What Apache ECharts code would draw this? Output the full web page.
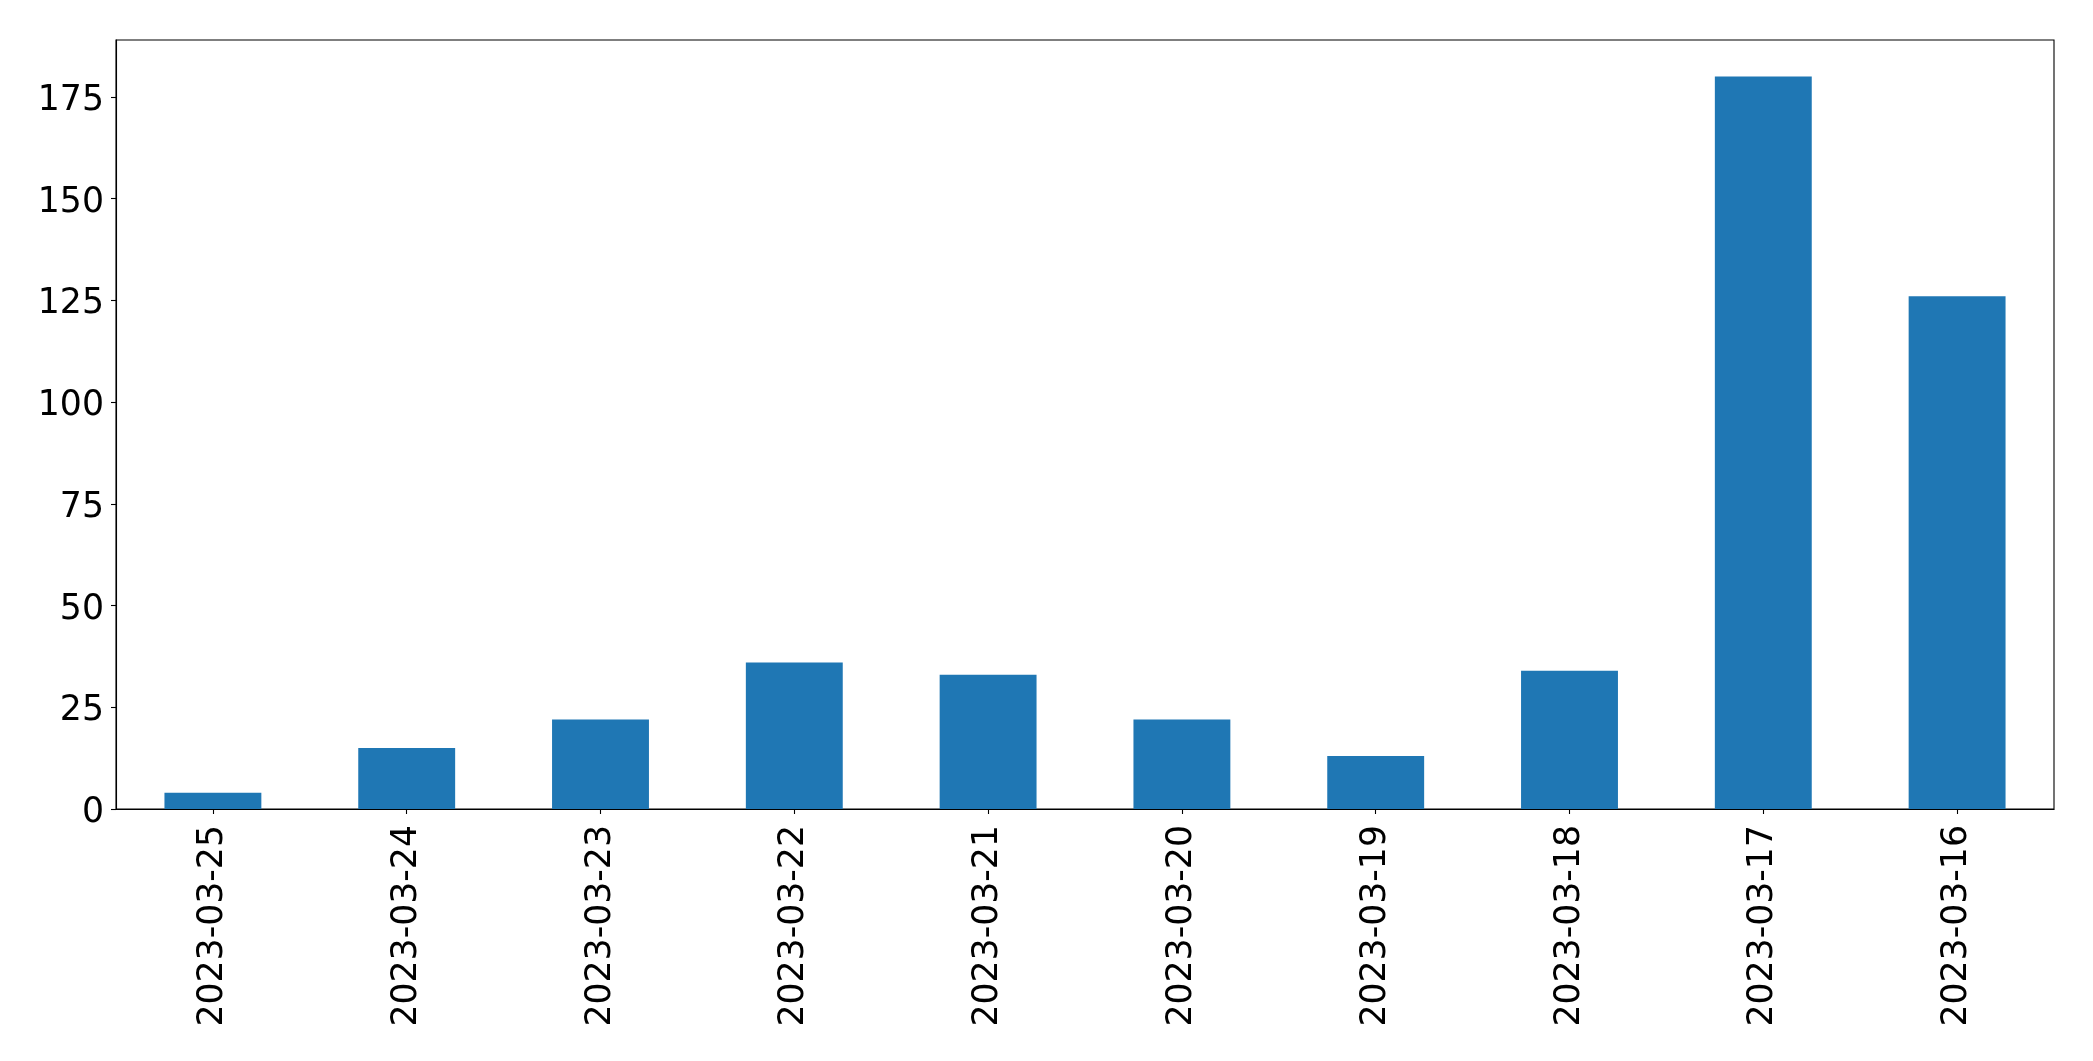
<!DOCTYPE html>
<html>
<head>
<meta charset="utf-8">
<script src="https://cdn.jsdelivr.net/npm/echarts@6/dist/echarts.min.js"></script>
<style>
html,body{margin:0;padding:0;background:#fff;}
#chart{width:2093px;height:1061px;}
</style>
</head>
<body>
<div id="chart"></div>
<script>
const categories = ['2023-03-25','2023-03-24','2023-03-23','2023-03-22','2023-03-21','2023-03-20','2023-03-19','2023-03-18','2023-03-17','2023-03-16'];
const values = [4, 15, 22, 36, 33, 22, 13, 34, 180, 126];
const yTicks = [0, 25, 50, 75, 100, 125, 150, 175];

const chart = echarts.init(document.getElementById('chart'), null, {renderer: 'canvas'});
const font = 'DejaVu Sans';
chart.setOption({
  animation: false,
  backgroundColor: '#ffffff',
  grid: {
    left: 116, right: 39, top: 40, bottom: 252,
    show: true, borderColor: '#000000', borderWidth: 1.1, backgroundColor: 'transparent'
  },
  xAxis: {
    type: 'category',
    data: categories,
    boundaryGap: true,
    axisLine: {show: true, lineStyle: {color: '#000', width: 1.1}},
    axisTick: {show: true, alignWithLabel: true, length: 5, lineStyle: {color: '#000', width: 1.1}},
    axisLabel: {rotate: 90, margin: 16, fontFamily: font, fontSize: 34.7, color: '#000', interval: 0},
    splitLine: {show: false}
  },
  yAxis: {
    type: 'value',
    min: 0,
    max: 189,
    axisLine: {show: true, lineStyle: {color: '#000', width: 1.1}},
    axisTick: {show: true, length: 5, lineStyle: {color: '#000', width: 1.1}, customValues: yTicks},
    axisLabel: {
      margin: 12, fontFamily: font, fontSize: 34.7, color: '#000', customValues: yTicks,
      formatter: function (v) { return '{a|' + v + '}'; },
      rich: {a: {fontFamily: font, fontSize: 34.7, color: '#000', padding: [8, 0, 0, 0]}}
    },
    splitLine: {show: false}
  },
  series: [{
    type: 'bar',
    data: values,
    barWidth: '50%',
    itemStyle: {color: '#1f77b4'}
  }]
});
</script>
</body>
</html>
